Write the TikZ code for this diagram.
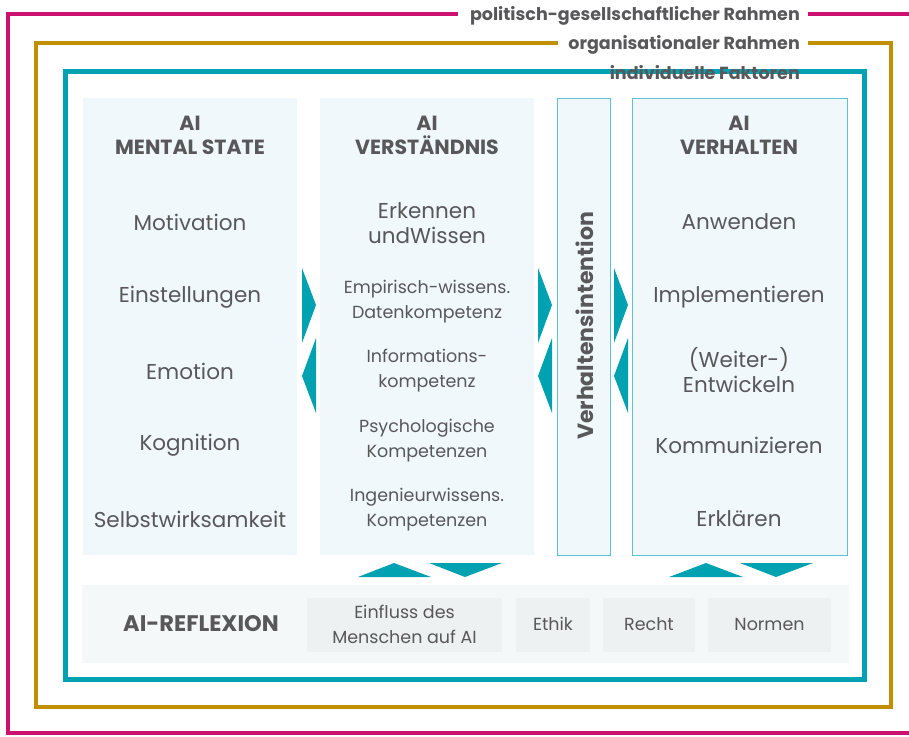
\documentclass[tikz,border=0pt]{standalone}
\usepackage{fontspec}
\setmainfont{Poppins}
\definecolor{magframe}{HTML}{CC1170}
\definecolor{goldframe}{HTML}{C09000}
\definecolor{tealc}{HTML}{00A2B2}
\definecolor{tealb}{HTML}{5CC3CF}
\definecolor{colfill}{HTML}{F0F8FB}
\definecolor{panelfill}{HTML}{F5F8F8}
\definecolor{boxfill}{HTML}{EDF1F1}
\definecolor{txt}{HTML}{58585B}
\begin{document}
\begin{tikzpicture}[x=1pt,y=-1pt,
  frame/.style={line width=4pt},
  col/.style={fill=colfill,draw=none},
  colb/.style={fill=colfill,draw=tealb,line width=1pt},
  ttl/.style={text=txt,font=\bfseries\fontsize{20.5}{24}\selectfont,align=center,inner sep=0pt},
  itm/.style={text=txt,font=\fontsize{21.5}{25}\selectfont,align=center,inner sep=0pt},
  sitm/.style={text=txt,font=\fontsize{17.5}{25}\selectfont,align=center,inner sep=0pt},
  lbl/.style={text=txt,font=\bfseries\fontsize{17.5}{18}\selectfont,inner sep=0pt,anchor=east},
  bitm/.style={text=txt,font=\fontsize{17.5}{25}\selectfont,align=center,inner sep=0pt},
  tri/.style={fill=tealc,draw=none},
  rbox/.style={fill=boxfill,draw=none}]
\useasboundingbox (0,0) rectangle (909,736);
% outer frames
\draw[frame,magframe] (458,14) -- (8,14) -- (8,733) -- (915,733);
\draw[frame,magframe] (808,14) -- (915,14);
\draw[frame,goldframe] (558,43) -- (36,43) -- (36,707) -- (891,707) -- (891,43) -- (808,43);
\draw[line width=5pt,tealc] (65,71) rectangle (864,679);
\node[lbl] (l1) at (800,16) {politisch-gesellschaftlicher Rahmen};
\node[lbl] (l2) at (800,45) {organisationaler Rahmen};
\node[lbl] (l3) at (800,73) {individuelle Faktoren};
% columns
\fill[col] (83,98) rectangle (297,555);
\fill[col] (320,98) rectangle (534,555);
\draw[colb] (557,98) rectangle (610,555);
\draw[colb] (632,98) rectangle (847,555);
% column 1
\node[ttl] (t1) at (190,135) {AI\\MENTAL STATE};
\node[itm] (a1) at (190,222) {Motivation};
\node[itm] (a2) at (190,297) {Einstellungen};
\node[itm] (a3) at (190,371) {Emotion};
\node[itm] (a4) at (190,445) {Kognition};
\node[itm] (a5) at (190,519) {Selbstwirksamkeit};
% column 2
\node[ttl] (t2) at (427,135) {AI\\VERSTÄNDNIS};
\node[itm] (b1) at (427,223) {Erkennen\\undWissen};
\node[sitm] (b2) at (427,302) {Empirisch-wissens.\\Datenkompetenz};
\node[sitm] (b3) at (427,371) {Informations-\\kompetenz};
\node[sitm] (b4) at (427,441) {Psychologische\\Kompetenzen};
\node[sitm] (b5) at (427,510) {Ingenieurwissens.\\Kompetenzen};
% column 3
\node[ttl,font=\bfseries\fontsize{22}{24}\selectfont,rotate=90] (c1) at (585,326) {Verhaltensintention};
% column 4
\node[ttl] (t4) at (739,135) {AI\\VERHALTEN};
\node[itm] (d1) at (739,222) {Anwenden};
\node[itm] (d2) at (739,297) {Implementieren};
\node[itm] (d3) at (739,370) {(Weiter-)\\Entwickeln};
\node[itm] (d4) at (739,445) {Kommunizieren};
\node[itm] (d5) at (739,519) {Erklären};
% side arrows
\foreach \x in {302,538,614}{
  \fill[tri] (\x,268) -- (\x+14,305) -- (\x,343) -- cycle;
  \fill[tri] (\x+14,338) -- (\x,376) -- (\x+14,413) -- cycle;
}
% bottom arrows
\fill[tri] (358,577) -- (394,563) -- (431,577) -- cycle;
\fill[tri] (429,563) -- (465,577) -- (502,563) -- cycle;
\fill[tri] (669,577) -- (706,563) -- (743,577) -- cycle;
\fill[tri] (740,563) -- (776,577) -- (813,563) -- cycle;
% reflexion panel
\fill[panelfill] (82,585) rectangle (849,663);
\node[text=txt,font=\bfseries\fontsize{22.5}{24}\selectfont,inner sep=0pt] (r0) at (201,624) {AI-REFLEXION};
\fill[rbox] (307,598) rectangle (502,652);
\fill[rbox] (516,598) rectangle (590,652);
\fill[rbox] (603,598) rectangle (695,652);
\fill[rbox] (708,598) rectangle (831,652);
\node[bitm] (r1) at (404.5,624) {Einfluss des\\Menschen auf AI};
\node[bitm] (r2) at (553,624) {Ethik};
\node[bitm] (r3) at (649,624) {Recht};
\node[bitm] (r4) at (769.5,624) {Normen};
\end{tikzpicture}
\end{document}
